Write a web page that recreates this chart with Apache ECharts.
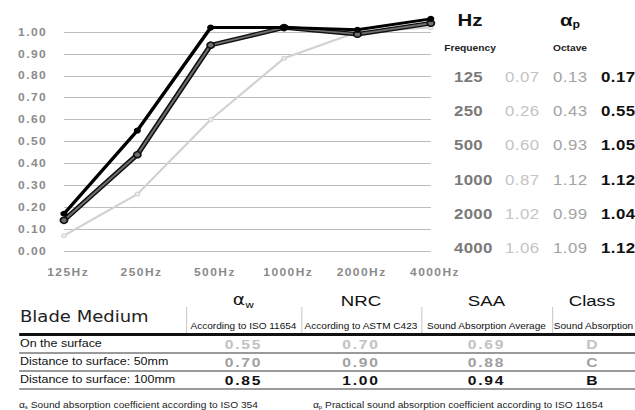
<!DOCTYPE html>
<html>
<head>
<meta charset="utf-8">
<script src="https://cdn.jsdelivr.net/npm/echarts@6/dist/echarts.min.js"></script>
<style>
html,body{margin:0;padding:0;background:#fff;overflow:hidden}
#page{position:absolute;left:0;top:0;width:529.17px;height:410px;transform:scaleX(1.2);transform-origin:0 0;font-family:Arial,'Liberation Sans',Helvetica,sans-serif;color:#111}
#chart{position:absolute;left:0;top:0;width:529.17px;height:410px}
#chart text{letter-spacing:1.2px}
.t{position:absolute;white-space:nowrap;line-height:1}
.ln{position:absolute}
sub{font-size:60%;vertical-align:-0.25em;line-height:0}
</style>
</head>
<body>
<div id="page"><div id="chart"></div></div>
<script>
// chart lines
var freqLabels = ['125Hz', '250Hz', '500Hz', '1000Hz', '2000Hz', '4000Hz'];
var surfaceLine = [0.07, 0.26, 0.60, 0.88, 1.00, 1.02];
var mm50Line = [0.14, 0.44, 0.94, 1.02, 0.99, 1.04];
var mm100Line = [0.17, 0.55, 1.02, 1.02, 1.01, 1.06];

// octave table on the right
var octFreq = ['125', '250', '500', '1000', '2000', '4000'];
var octSurface = ['0.07', '0.26', '0.60', '0.87', '1.02', '1.06'];
var oct50 = ['0.13', '0.43', '0.93', '1.12', '0.99', '1.09'];
var oct100 = ['0.17', '0.55', '1.05', '1.12', '1.04', '1.12'];

// single number table
var rowLabels = ['On the surface', 'Distance to surface: 50mm', 'Distance to surface: 100mm'];
var colTitles = ['α<sub>w</sub>', 'NRC', 'SAA', 'Class'];
var colSubs = ['According to ISO 11654', 'According to ASTM C423', 'Sound Absorption Average', 'Sound Absorption'];
var alphaW = ['0.55', '0.70', '0.85'];
var nrc = ['0.70', '0.90', '1.00'];
var saa = ['0.69', '0.88', '0.94'];
var absClass = ['D', 'C', 'B'];
var notes = ['α<sub>s</sub> Sound absorption coefficient according to ISO 354',
             'α<sub>p</sub> Practical sound absorption coefficient according to ISO 11654'];

var page = document.getElementById('page');

function put(html, x, y, css, align) {
  var d = document.createElement('div');
  d.className = 't';
  d.innerHTML = html;
  Object.assign(d.style, css || {});
  d.style.left = x + 'px';
  d.style.top = y + 'px';
  var tx = align == 'center' ? '-50%' : (align == 'right' ? '-100%' : '0');
  d.style.transform = 'translate(' + tx + ',-50%)';
  page.appendChild(d);
}
function line(x, y, w, h, color) {
  var d = document.createElement('div');
  d.className = 'ln';
  d.style.left = x + 'px'; d.style.top = y + 'px';
  d.style.width = w + 'px'; d.style.height = h + 'px';
  d.style.background = color;
  page.appendChild(d);
}

// right table
put('Hz', 391.7, 20, {fontSize: '17px', fontWeight: 'bold'}, 'center');
put('α<sub>p</sub>', 475, 20, {fontSize: '17px', fontWeight: 'bold'}, 'center');
put('Frequency', 391.7, 48, {fontSize: '8.5px', fontWeight: 'bold', color: '#222'}, 'center');
put('Octave', 475, 48, {fontSize: '8.5px', fontWeight: 'bold', color: '#222'}, 'center');
for (var i = 0; i < octFreq.length; i++) {
  var y = 77 + i * 34.2;
  put(octFreq[i], 378.3, y, {fontSize: '14px', fontWeight: 'bold', color: '#7a7a7a', letterSpacing: '0.3px'});
  put(octSurface[i], 420.8, y, {fontSize: '14px', color: '#c4c4c4', letterSpacing: '0.4px'});
  put(oct50[i], 460.8, y, {fontSize: '14px', color: '#a3a3a3', letterSpacing: '0.4px'});
  put(oct100[i], 500.8, y, {fontSize: '14px', fontWeight: 'bold', color: '#111', letterSpacing: '0.4px'});
}

// bottom table
var colEdges = [155, 250.8, 350.8, 460, 560];
put('Blade Medium', 16.7, 317, {fontSize: '15px', fontFamily: "'DejaVu Sans'", color: '#222'});
for (var c = 0; c < 4; c++) {
  var cx = c == 3 ? 493.3 : (colEdges[c] + colEdges[c + 1]) / 2;
  put(colTitles[c], cx, 301, {fontSize: '15.5px', fontFamily: c == 0 ? "'DejaVu Sans'" : 'Arial'}, 'center');
  if (c == 3) put(colSubs[c], colEdges[c] + 1.5, 326, {fontSize: '8.4px'});
  else put(colSubs[c], cx, 326, {fontSize: '8.4px'}, 'center');
  line(colEdges[c], 307, 1, 27, '#cfcfcf');
}
line(15.8, 333, 520, 2.5, '#111');
var rowColors = ['#c2c2c2', '#a0a0a0', '#111'];
var cols = [alphaW, nrc, saa, absClass];
for (var r = 0; r < 3; r++) {
  var ry = 344 + r * 18;
  put(rowLabels[r], 16.7, ry, {fontSize: '10.4px'});
  for (var c = 0; c < 4; c++) {
    var cx = c == 3 ? 493.3 : (colEdges[c] + colEdges[c + 1]) / 2;
    put(cols[c][r], cx, ry, {fontSize: '13px', fontWeight: 'bold', color: rowColors[r], letterSpacing: c == 3 ? '0' : '1.5px'}, 'center');
  }
  line(15.8, 352 + r * 18.2, 520, 1.6, '#9a9a9a');
}
put(notes[0], 15.8, 405, {fontSize: '8.5px', color: '#222'});
put(notes[1], 260.8, 405, {fontSize: '8.5px', color: '#222'});

// line chart
var chart = echarts.init(document.getElementById('chart'), null, {renderer: 'svg'});
var labelFont = {color: '#8a8a8a', fontWeight: 'bold', fontSize: 10, fontFamily: 'Arial'};
chart.setOption({
  animation: false,
  grid: {left: 53.3, right: 170, top: 32, bottom: 159},
  xAxis: {
    type: 'category',
    boundaryGap: false,
    data: freqLabels,
    axisLine: {show: false},
    axisTick: {show: false},
    axisLabel: Object.assign({margin: 16, padding: [0, 0, 0, 7]}, labelFont)
  },
  yAxis: {
    type: 'value',
    min: 0,
    max: 1,
    interval: 0.1,
    axisLabel: Object.assign({margin: 14, formatter: function (v) { return v.toFixed(2); }}, labelFont),
    splitLine: {lineStyle: {color: '#bdbdbd', width: 1}}
  },
  series: [
    {
      name: 'On the surface', type: 'line', data: surfaceLine, clip: false, z: 2,
      symbol: 'circle', symbolSize: 4,
      lineStyle: {color: '#d2d2d2', width: 2},
      itemStyle: {color: '#ececec', borderColor: '#d2d2d2', borderWidth: 1}
    },
    {
      name: '50mm outline', type: 'line', data: mm50Line, clip: false, z: 3,
      symbol: 'none',
      lineStyle: {color: '#111', width: 4.5}
    },
    {
      name: '50mm', type: 'line', data: mm50Line, clip: false, z: 4,
      symbol: 'circle', symbolSize: 6,
      lineStyle: {color: '#6e6e6e', width: 1.8},
      itemStyle: {color: '#6e6e6e', borderColor: '#111', borderWidth: 1.5}
    },
    {
      name: '100mm', type: 'line', data: mm100Line, clip: false, z: 5,
      symbol: 'circle', symbolSize: 6,
      lineStyle: {color: '#000', width: 3},
      itemStyle: {color: '#000'}
    }
  ]
});
</script>
</body>
</html>
